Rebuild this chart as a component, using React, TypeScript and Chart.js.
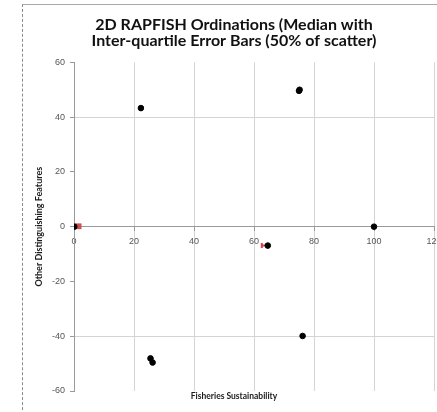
import React, { useEffect, useRef } from "react";
import { Chart, registerables } from "chart.js";

Chart.register(...registerables);

// Median ordination scores per attribute group
const sustainability = [0.1, 22.3, 75.0, 75.2, 100, 64.6, 76.2, 25.5, 26.2];
const distinguishing = [0, 43.3, 49.6, 50.0, 0, -6.9, -39.9, -48.1, -49.6];

// Inter-quartile ranges (25th / 75th percentile) around each median
const sustainQ1 = [0.3, 22.3, 75.0, 75.2, 100, 62.6, 76.2, 25.5, 26.2];
const sustainQ3 = [2.5, 22.3, 75.0, 75.2, 100, 64.6, 76.2, 25.5, 26.2];
const distinguishQ1 = [-0.9, 43.3, 49.6, 50.0, 0, -6.9, -39.9, -48.1, -49.6];
const distinguishQ3 = [1.2, 43.3, 49.6, 50.0, 0, -6.9, -39.9, -48.1, -49.6];

const xTicks = [0, 20, 40, 60, 80, 100, 120];
const yTicks = [-60, -40, -20, 0, 20, 40, 60];

const titleLines = [
  "2D RAPFISH Ordinations (Median with",
  "Inter-quartile Error Bars (50% of scatter)",
];
const xTitle = "Fisheries Sustainability";
const yTitle = "Other Distinguishing Features";

// Red inter-quartile bars; where both ranges exist the IQR box is filled
const errorBars = {
  id: "errorBars",
  beforeDatasetsDraw(chart: any) {
    const { ctx, scales } = chart;
    const sx = scales.x;
    const sy = scales.y;
    const cap = 2.5;
    ctx.save();
    ctx.strokeStyle = "#d9404c";
    ctx.fillStyle = "#cf4f4f";
    ctx.lineWidth = 2;
    sustainability.forEach((xv, i) => {
      const px = sx.getPixelForValue(xv);
      const py = sy.getPixelForValue(distinguishing[i]);
      const hasX = sustainQ1[i] !== sustainQ3[i];
      const hasY = distinguishQ1[i] !== distinguishQ3[i];
      if (hasX && hasY) {
        const x0 = sx.getPixelForValue(sustainQ1[i]);
        const x1 = sx.getPixelForValue(sustainQ3[i]);
        const y0 = sy.getPixelForValue(distinguishQ3[i]);
        const y1 = sy.getPixelForValue(distinguishQ1[i]);
        ctx.fillRect(x0, y0, x1 - x0, y1 - y0);
        return;
      }
      if (hasX) {
        const a = sx.getPixelForValue(sustainQ1[i]);
        const b = sx.getPixelForValue(sustainQ3[i]);
        ctx.beginPath();
        ctx.moveTo(a, py);
        ctx.lineTo(b, py);
        ctx.moveTo(a, py - cap);
        ctx.lineTo(a, py + cap);
        ctx.moveTo(b, py - cap);
        ctx.lineTo(b, py + cap);
        ctx.stroke();
      }
      if (hasY) {
        const a = sy.getPixelForValue(distinguishQ1[i]);
        const b = sy.getPixelForValue(distinguishQ3[i]);
        ctx.beginPath();
        ctx.moveTo(px, a);
        ctx.lineTo(px, b);
        ctx.moveTo(px - cap, a);
        ctx.lineTo(px + cap, a);
        ctx.moveTo(px - cap, b);
        ctx.lineTo(px + cap, b);
        ctx.stroke();
      }
    });
    ctx.restore();
  },
};

const tickFont = { family: "'Liberation Sans', sans-serif", size: 9 };

export default function App() {
  const canvasRef = useRef<HTMLCanvasElement | null>(null);

  useEffect(() => {
    if (!canvasRef.current) return;
    const chart = new Chart(canvasRef.current, {
      type: "scatter",
      data: {
        datasets: [
          {
            data: sustainability.map((x, i) => ({ x, y: distinguishing[i] })),
            backgroundColor: "#000000",
            borderColor: "#000000",
            pointRadius: 2.8,
            pointHoverRadius: 2.8,
          },
        ],
      },
      options: {
        animation: false,
        responsive: false,
        maintainAspectRatio: false,
        events: [],
        layout: {
          autoPadding: false,
          padding: { left: 34, right: 3, top: 0, bottom: 0 },
        },
        plugins: {
          legend: { display: false },
          tooltip: { enabled: false },
          title: {
            display: true,
            text: titleLines,
            color: "#111111",
            font: { family: "Lato, 'Open Sans', sans-serif", size: 16, weight: "bold", lineHeight: 0.98 },
            padding: { top: 17, bottom: 14 },
          },
          subtitle: {
            display: true,
            position: "bottom",
            text: xTitle,
            color: "#1a1a1a",
            font: { family: "Lato, sans-serif", size: 8.5, weight: "bold", lineHeight: 1.2 },
            padding: { top: 0, bottom: 10.8 },
          },
        },
        scales: {
          x: {
            type: "linear",
            position: { y: 0 } as any,
            min: 0,
            max: 120,
            afterBuildTicks: (scale: any) => {
              scale.ticks = xTicks.map((value) => ({ value }));
            },
            afterFit: (scale: any) => {
              scale.paddingLeft = 0;
              scale.paddingRight = 0;
              scale.paddingTop = 0;
              scale.paddingBottom = 0;
            },
            grid: {
              color: "#d4d4d4",
              tickColor: "#9a9a9a",
              tickLength: 4,
              lineWidth: 1,
            },
            border: { color: "#9a9a9a", width: 1 },
            ticks: {
              color: "#555555",
              font: tickFont,
              padding: 5,
              maxRotation: 0,
              autoSkip: false,
            },
          },
          y: {
            type: "linear",
            position: "left",
            min: -60,
            max: 60,
            afterBuildTicks: (scale: any) => {
              scale.ticks = yTicks.map((value) => ({ value }));
            },
            afterFit: (scale: any) => {
              scale.width = 40;
              scale.paddingTop = 0;
              scale.paddingBottom = 0;
            },
            grid: {
              color: (c: any) =>
                c.tick && c.tick.value % 40 === 0 && Math.abs(c.tick.value) !== 60 ? "#d4d4d4" : "rgba(0,0,0,0)",
              tickColor: "#9a9a9a",
              tickLength: 4,
              lineWidth: 1,
            },
            border: { color: "#9a9a9a", width: 1 },
            ticks: {
              color: "#555555",
              font: tickFont,
              padding: 5,
              autoSkip: false,
            },
            title: {
              display: true,
              text: yTitle,
              color: "#1a1a1a",
              font: { family: "Lato, sans-serif", size: 9, weight: "bold", lineHeight: 1.2 },
              padding: { top: 0, bottom: 0 },
            },
          },
        },
      },
      plugins: [errorBars],
    } as any);
    return () => chart.destroy();
  }, []);

  return (
    <div style={{ position: "absolute", left: 0, top: 0, width: 437, height: 412, overflow: "hidden", background: "#ffffff" }}>
      <div
        style={{
          position: "absolute",
          left: 22,
          top: 4,
          width: 440,
          height: 420,
          borderTop: "1px solid #a8a8a8",
          borderLeft: "1px dashed #8a8a8a",
        }}
      />
      <canvas ref={canvasRef} width={437} height={412} style={{ position: "absolute", left: 0, top: 0 }} />
    </div>
  );
}
